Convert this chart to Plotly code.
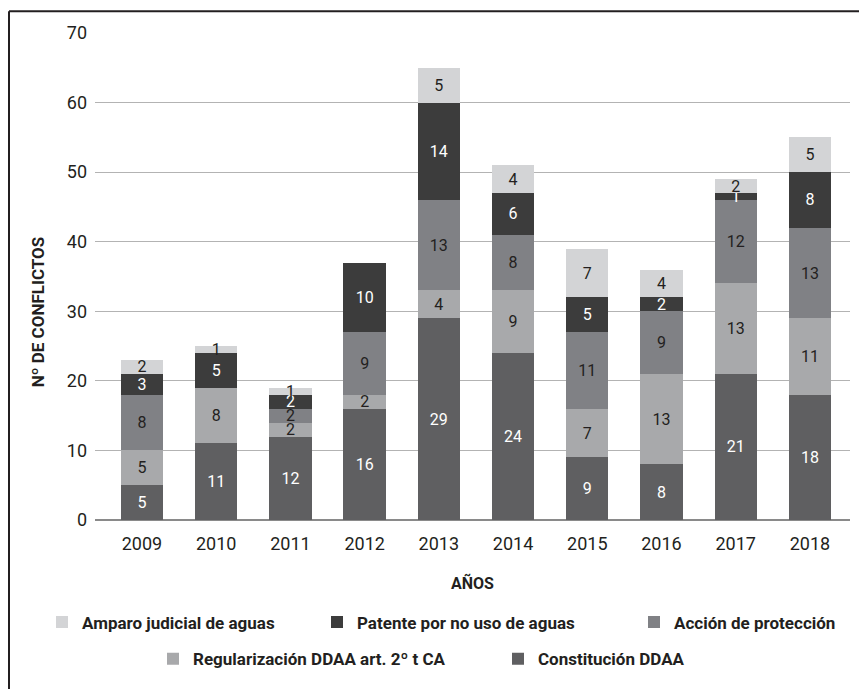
import plotly.graph_objects as go

# Data
years = ["2009", "2010", "2011", "2012", "2013", "2014", "2015", "2016", "2017", "2018"]
constitucion = [5, 11, 12, 16, 29, 24, 9, 8, 21, 18]
regularizacion = [5, 8, 2, 2, 4, 9, 7, 13, 13, 11]
accion = [8, 0, 2, 9, 13, 8, 11, 9, 12, 13]
patente = [3, 5, 2, 10, 14, 6, 5, 2, 1, 8]
amparo = [2, 1, 1, 0, 5, 4, 7, 4, 2, 5]
y_ticks = [0, 10, 20, 30, 40, 50, 60, 70]

# the page body has an 8px margin, so the figure is placed at (8, 8)
OFF = 8
W, H = 867 - OFF, 689 - OFF
# plot area in window pixels: x 95..850, y 33..522
L, R, T, B = 95 - OFF, W - (850 - OFF), 33 - OFF, H - (523 - OFF)
PW, PH = W - L - R, H - T - B

FONT = "Roboto, Liberation Sans, Arial, sans-serif"


def px_x(px):
    # window pixel -> paper x
    return (px - OFF - L) / PW


def px_y(py):
    # window pixel -> paper y
    return (H - B - (py - OFF)) / PH


series = [
    # name, values, colour, text colour, legend, legend text start (window px), row y
    ("Constitución DDAA", constitucion, "#5f5f61", "#ffffff", "legend5", 539, 663),
    ("Regularización DDAA art. 2º t CA", regularizacion, "#a8a9ab", "#231f20", "legend4", 194, 663),
    ("Acción de protección", accion, "#808185", "#231f20", "legend3", 675, 626),
    ("Patente por no uso de aguas", patente, "#3c3c3c", "#ffffff", "legend2", 358, 626),
    ("Amparo judicial de aguas", amparo, "#d3d4d6", "#231f20", "legend", 83, 626),
]

fig = go.Figure()
legends = {}
for name, vals, col, tcol, leg, lx, ly in series:
    fig.add_trace(go.Bar(
        x=years, y=vals, name=name,
        marker=dict(color=col, line=dict(width=0)),
        width=0.57,
        text=[str(v) if v else "" for v in vals],
        textposition="inside",
        insidetextanchor="middle",
        textangle=0,
        textfont=dict(family=FONT, size=16, color=tcol),
        legend=leg,
    ))
    legends[leg] = dict(
        orientation="h",
        x=px_x(lx - 41), xanchor="left", y=px_y(ly), yanchor="middle",
        font=dict(family=FONT, size=17, color="#231f20", weight="bold"),
        bgcolor="rgba(0,0,0,0)",
    )

fig.update_layout(
    width=W, height=H,
    margin=dict(l=L, r=R, t=T, b=B),
    barmode="stack",
    paper_bgcolor="#ffffff",
    plot_bgcolor="#ffffff",
    font=dict(family=FONT, color="#231f20"),
    uniformtext=dict(minsize=16, mode="show"),
    showlegend=True,
    **legends,
)

fig.update_xaxes(
    type="category",
    range=[-0.633, 9.54],
    showgrid=False,
    showline=False,
    zeroline=False,
    ticks="",
    ticklabelstandoff=11,
    tickfont=dict(family=FONT, size=18, color="#231f20"),
)
fig.update_yaxes(
    range=[0, 70],
    tickvals=y_ticks,
    showgrid=True,
    gridcolor="#b3b3b3",
    gridwidth=1.2,
    zeroline=True,
    zerolinecolor="#8a8a8a",
    zerolinewidth=1.5,
    showline=False,
    ticks="",
    ticklabelstandoff=7,
    tickfont=dict(family=FONT, size=18, color="#231f20"),
)

# axis titles
fig.add_annotation(
    text="AÑOS", xref="paper", yref="paper",
    x=0.5, y=px_y(586), xanchor="center", yanchor="middle",
    showarrow=False,
    font=dict(family=FONT, size=16, color="#231f20", weight="bold"),
)
fig.add_annotation(
    text="Nº DE CONFLICTOS", xref="paper", yref="paper",
    x=px_x(38), y=px_y(314), xanchor="center", yanchor="middle",
    textangle=-90, showarrow=False,
    font=dict(family=FONT, size=17, color="#231f20", weight="bold"),
)

# frame (left and top edges only, as in the scan)
frame = dict(color="#231f20", width=2)
fig.add_shape(type="line", xref="paper", yref="paper",
              x0=px_x(9), x1=px_x(9), y0=px_y(11), y1=px_y(700), line=frame)
fig.add_shape(type="line", xref="paper", yref="paper",
              x0=px_x(9), x1=px_x(862), y0=px_y(11), y1=px_y(11), line=frame)

fig.write_html("out.html")
